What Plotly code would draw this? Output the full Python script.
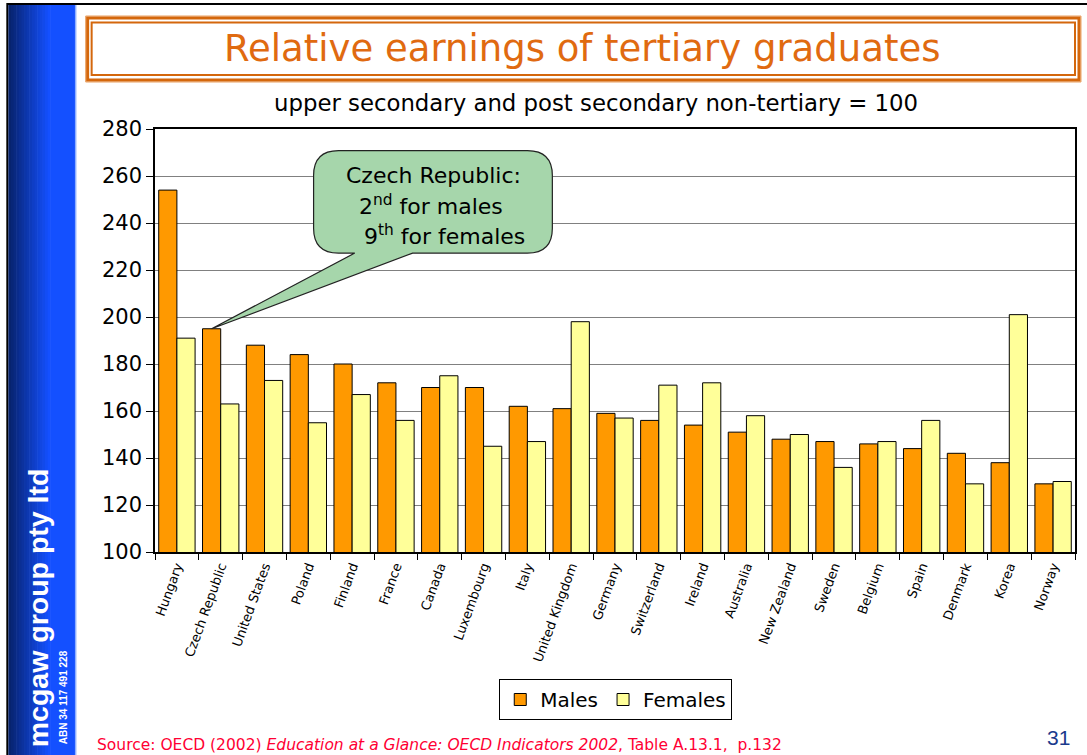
import plotly.graph_objects as go

# ---- data ----
countries = ["Hungary", "Czech Republic", "United States", "Poland", "Finland", "France",
             "Canada", "Luxembourg", "Italy", "United Kingdom", "Germany", "Switzerland",
             "Ireland", "Australia", "New Zealand", "Sweden", "Belgium", "Spain",
             "Denmark", "Korea", "Norway"]
males = [254, 195, 188, 184, 180, 172, 170, 170, 162, 161, 159, 156, 154, 151, 148, 147, 146, 144, 142, 138, 129]
females = [191, 163, 173, 155, 167, 156, 175, 145, 147, 198, 157, 171, 172, 158, 150, 136, 147, 156, 129, 201, 130]
y_ticks = [100, 120, 140, 160, 180, 200, 220, 240, 260, 280]

W, H = 1087, 755
L, R, T, B = 155, 10, 129, 203
PW, PH = W - L - R, H - T - B

def X(px):
    return (px - L) / PW

def Y(py):
    return (H - B - py) / PH

FONT = "DejaVu Sans"
SIDE = "Liberation Sans, Arial, sans-serif"
BARGAP = 0.17
idx = list(range(len(countries)))

fig = go.Figure()
fig.add_trace(go.Bar(x=idx, y=males, name="Males", marker=dict(color="#ff9900", line=dict(color="black", width=1))))
fig.add_trace(go.Bar(x=idx, y=females, name="Females", marker=dict(color="#ffff99", line=dict(color="black", width=1))))

shapes = []
# outer slide border
shapes.append(dict(type="rect", xref="paper", yref="paper", x0=X(7), x1=X(1095), y0=Y(4), y1=Y(765),
                   line=dict(color="black", width=2), fillcolor="rgba(0,0,0,0)", layer="below"))
# sidebar gradient
c0 = (8, 36, 110)
c1 = (20, 80, 255)
n = 16
xs, xe = 8, 50
for i in range(n):
    t = i / (n - 1)
    col = tuple(int(c0[k] + (c1[k] - c0[k]) * t) for k in range(3))
    a = xs + (xe - xs) * i / n
    b = xs + (xe - xs) * (i + 1) / n + 0.6
    shapes.append(dict(type="rect", xref="paper", yref="paper", x0=X(a), x1=X(b), y0=Y(5), y1=Y(760),
                       line=dict(width=0), fillcolor="rgb(%d,%d,%d)" % col, layer="below"))
shapes.append(dict(type="rect", xref="paper", yref="paper", x0=X(xe), x1=X(75), y0=Y(5), y1=Y(760),
                   line=dict(width=0), fillcolor="rgb(20,80,255)", layer="below"))
shapes.append(dict(type="line", xref="paper", yref="paper", x0=X(75.5), x1=X(75.5), y0=Y(5), y1=Y(760),
                   line=dict(color="#8fb0ff", width=1.5), layer="below"))
# title double border
shapes.append(dict(type="rect", xref="paper", yref="paper", x0=X(85.5), x1=X(1083), y0=Y(16), y1=Y(82),
                   line=dict(color="#eaa060", width=1), fillcolor="rgba(0,0,0,0)"))
shapes.append(dict(type="rect", xref="paper", yref="paper", x0=X(87.5), x1=X(1081), y0=Y(18), y1=Y(80),
                   line=dict(color="#d4670c", width=3), fillcolor="rgba(0,0,0,0)"))
shapes.append(dict(type="rect", xref="paper", yref="paper", x0=X(91.5), x1=X(1077), y0=Y(22.5), y1=Y(75),
                   line=dict(color="#d4670c", width=2), fillcolor="rgba(0,0,0,0)"))

# callout (data coords)
bx0, bx1, by0, by1 = 3.12, 8.57, 227.2, 270.8
rx, ry = 0.57, 10.6
tx0, tx1 = 4.06, 5.38
ci = countries.index("Czech Republic")
tipx = ci - (1 - BARGAP) / 4
tipy = males[ci]
path = (f"M {bx0+rx},{by1} L {bx1-rx},{by1} Q {bx1},{by1} {bx1},{by1-ry} "
        f"L {bx1},{by0+ry} Q {bx1},{by0} {bx1-rx},{by0} L {tx1},{by0} L {tipx},{tipy} "
        f"L {tx0},{by0} L {bx0+rx},{by0} Q {bx0},{by0} {bx0},{by0+ry} "
        f"L {bx0},{by1-ry} Q {bx0},{by1} {bx0+rx},{by1} Z")
shapes.append(dict(type="path", xref="x", yref="y", path=path, fillcolor="#a6d6ab",
                   line=dict(color="#222222", width=1.2), layer="above"))

ann = []
ann.append(dict(text="Relative earnings of tertiary graduates", xref="paper", yref="paper",
                x=X(583), y=Y(48), xanchor="center", yanchor="middle", showarrow=False,
                font=dict(family=FONT, size=37, color="#e06a10")))
ann.append(dict(text="upper secondary and post secondary non-tertiary = 100", xref="paper", yref="paper",
                x=X(597), y=Y(103), xanchor="center", yanchor="middle", showarrow=False,
                font=dict(family=FONT, size=22.8, color="black")))
ann.append(dict(text="Czech Republic:", xref="paper", yref="paper", x=X(434), y=Y(175),
                xanchor="center", yanchor="middle", showarrow=False, font=dict(family=FONT, size=22, color="black")))
ann.append(dict(text="2<sup>nd</sup> for males", xref="paper", yref="paper", x=X(432), y=Y(205),
                xanchor="center", yanchor="middle", showarrow=False, font=dict(family=FONT, size=22, color="black")))
ann.append(dict(text="9<sup>th</sup> for females", xref="paper", yref="paper", x=X(445), y=Y(235),
                xanchor="center", yanchor="middle", showarrow=False, font=dict(family=FONT, size=22, color="black")))
ann.append(dict(text="<b>mcgaw group pty ltd</b>", xref="paper", yref="paper", x=X(38), y=Y(608),
                xanchor="center", yanchor="middle", showarrow=False, textangle=-90,
                font=dict(family=SIDE, size=28.5, color="white")))
ann.append(dict(text="<b>ABN 34 117 491 228</b>", xref="paper", yref="paper", x=X(63), y=Y(697),
                xanchor="center", yanchor="middle", showarrow=False, textangle=-90,
                font=dict(family=SIDE, size=10, color="white")))
ann.append(dict(text="Source: OECD (2002) <i>Education at a Glance: OECD Indicators 2002</i>, Table A.13.1,  p.132",
                xref="paper", yref="paper", x=X(95), y=Y(745), xanchor="left", yanchor="middle", showarrow=False,
                font=dict(family=FONT, size=15.5, color="#ff0033")))
ann.append(dict(text="31", xref="paper", yref="paper", x=X(1060), y=Y(737), xanchor="center", yanchor="middle",
                showarrow=False, font=dict(family="Liberation Sans", size=21, color="#1a3a8c")))

fig.update_layout(
    width=W, height=H, autosize=False,
    margin=dict(l=L, r=R, t=T, b=B, pad=0),
    paper_bgcolor="white", plot_bgcolor="white",
    barmode="group", bargap=BARGAP, bargroupgap=0,
    shapes=shapes, annotations=ann,
    showlegend=True,
    legend=dict(orientation="h", x=X(500), y=Y(679), xanchor="left", yanchor="top",
                bordercolor="black", borderwidth=1, bgcolor="white",
                font=dict(family=FONT, size=20, color="black"), itemwidth=30, tracegroupgap=0),
    font=dict(family=FONT, color="black"),
)
fig.update_xaxes(range=[-0.5, len(countries) - 0.5], tickmode="array", tickvals=idx, ticktext=countries,
                 tickangle=-70, ticks="", showgrid=False, zeroline=False,
                 showline=True, linecolor="black", linewidth=1.5, mirror=True,
                 tickfont=dict(family=FONT, size=13, color="black"),
                 minor=dict(tickmode="linear", tick0=-0.5, dtick=1, ticks="outside", ticklen=6,
                            tickcolor="black", tickwidth=1, showgrid=False))
fig.update_yaxes(range=[100, 280], tickmode="array", tickvals=y_ticks, ticks="outside", ticklen=7,
                 tickcolor="black", showgrid=True, gridcolor="#808080", gridwidth=1.3, zeroline=False,
                 showline=True, linecolor="black", linewidth=1.5, mirror=True,
                 tickfont=dict(family=FONT, size=21, color="black"))

fig.write_html("out.html", config={"displayModeBar": False},
               post_script="document.body.style.margin='0';document.body.style.overflow='hidden';")
